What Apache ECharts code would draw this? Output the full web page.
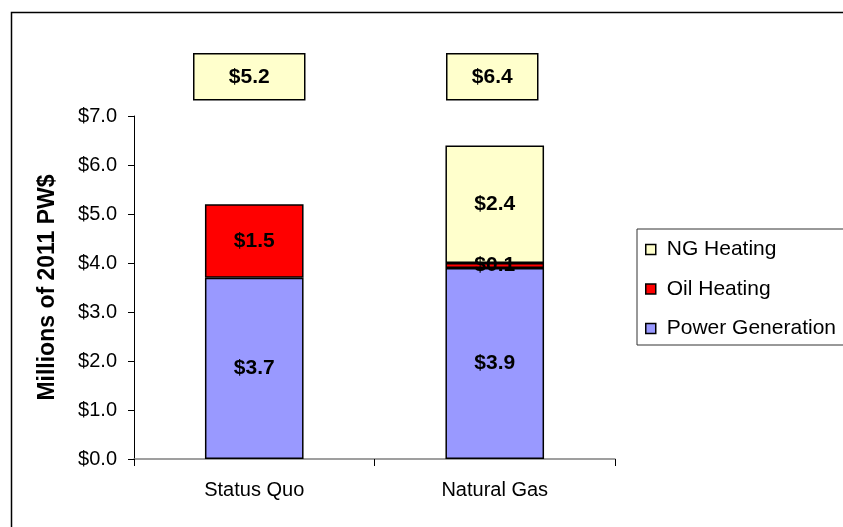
<!DOCTYPE html>
<html>
<head>
<meta charset="utf-8">
<script src="https://cdn.jsdelivr.net/npm/echarts@6/dist/echarts.min.js"></script>
<style>
  html, body { margin: 0; padding: 0; background: #fff; }
  #chart { width: 843px; height: 527px; }
</style>
</head>
<body>
<div id="chart"></div>
<script>
// Scenario cost breakdown, millions of 2011 present-worth dollars
var categories = ['Status Quo', 'Natural Gas'];
var powerGeneration = [3.7, 3.9];
var oilHeating = [1.5, 0.1];
var ngHeating = [0, 2.4];
var yTicks = [0, 1, 2, 3, 4, 5, 6, 7];

var totals = categories.map(function (c, i) {
  return powerGeneration[i] + oilHeating[i] + ngHeating[i];
});

function money(v) { return '$' + Number(v).toFixed(1); }

var FONT = '"Liberation Sans", Arial, sans-serif';

var chart = echarts.init(document.getElementById('chart'), null, { renderer: 'canvas' });

function barSeries(name, values, color) {
  return {
    name: name,
    type: 'bar',
    stack: 'total',
    barWidth: '41%',
    data: values.map(function (v) { return v === 0 ? '-' : v; }),
    itemStyle: { color: color, borderColor: '#000', borderWidth: 1.5 },
    label: {
      show: true,
      position: 'inside',
      color: '#000',
      fontFamily: FONT,
      fontWeight: 'bold',
      fontSize: 21,
      formatter: function (p) { return money(p.value); }
    },
    emphasis: { disabled: true }
  };
}

// Total boxes above each bar
var boxes = [
  { x: 193, w: 111 },
  { x: 446, w: 91 }
];
var totalGraphics = [];
totals.forEach(function (t, i) {
  totalGraphics.push({
    type: 'group',
    left: boxes[i].x,
    top: 53,
    children: [
      {
        type: 'rect',
        shape: { x: 0, y: 0, width: boxes[i].w, height: 46 },
        style: { fill: '#FFFFCC', stroke: '#000', lineWidth: 1.5 }
      },
      {
        type: 'text',
        x: boxes[i].w / 2,
        y: 23,
        style: {
          text: money(t),
          fill: '#000',
          font: 'bold 21px ' + FONT,
          textAlign: 'center',
          textVerticalAlign: 'middle'
        }
      }
    ]
  });
});

chart.setOption({
  backgroundColor: '#fff',
  animation: false,
  textStyle: { fontFamily: FONT },
  grid: { left: 134, right: 228, top: 116, bottom: 68 },
  legend: {
    orient: 'vertical',
    left: 637,
    top: 229,
    data: ['NG Heating', 'Oil Heating', 'Power Generation'],
    icon: 'rect',
    itemWidth: 10,
    itemHeight: 10,
    itemGap: 18.5,
    padding: [10, 20, 6, 8],
    borderColor: '#333',
    borderWidth: 1,
    selectedMode: false,
    itemStyle: { borderColor: '#000', borderWidth: 1.5 },
    textStyle: { fontFamily: FONT, fontSize: 21, color: '#000', lineHeight: 20, padding: [0, 0, 0, 6] }
  },
  xAxis: {
    type: 'category',
    data: categories,
    axisLine: { lineStyle: { color: '#808080', width: 1.5 } },
    axisTick: { show: true, length: 7, lineStyle: { color: '#000', width: 1 } },
    axisLabel: { color: '#000', fontFamily: FONT, fontSize: 20, margin: 21 }
  },
  yAxis: {
    type: 'value',
    min: yTicks[0],
    max: yTicks[yTicks.length - 1],
    interval: 1,
    name: 'Millions of 2011 PW$',
    nameLocation: 'middle',
    nameRotate: 90,
    nameGap: 75,
    nameTextStyle: { color: '#000', fontFamily: FONT, fontSize: 23, fontWeight: 'bold' },
    axisLine: { show: true, lineStyle: { color: '#000', width: 1 } },
    axisTick: { show: true, length: 6, lineStyle: { color: '#000' } },
    splitLine: { show: false },
    axisLabel: {
      color: '#000',
      fontFamily: FONT,
      fontSize: 20,
      margin: 17,
      formatter: function (v) { return money(v); }
    }
  },
  series: [
    barSeries('Power Generation', powerGeneration, '#9999FF'),
    barSeries('Oil Heating', oilHeating, '#FF0000'),
    barSeries('NG Heating', ngHeating, '#FFFFCC')
  ],
  graphic: [
    {
      type: 'rect',
      left: 9,
      top: 10,
      shape: { x: 0, y: 0, width: 900, height: 600 },
      style: { fill: 'none', stroke: '#000', lineWidth: 1.5 },
      z: -1
    }
  ].concat(totalGraphics)
});
</script>
</body>
</html>
